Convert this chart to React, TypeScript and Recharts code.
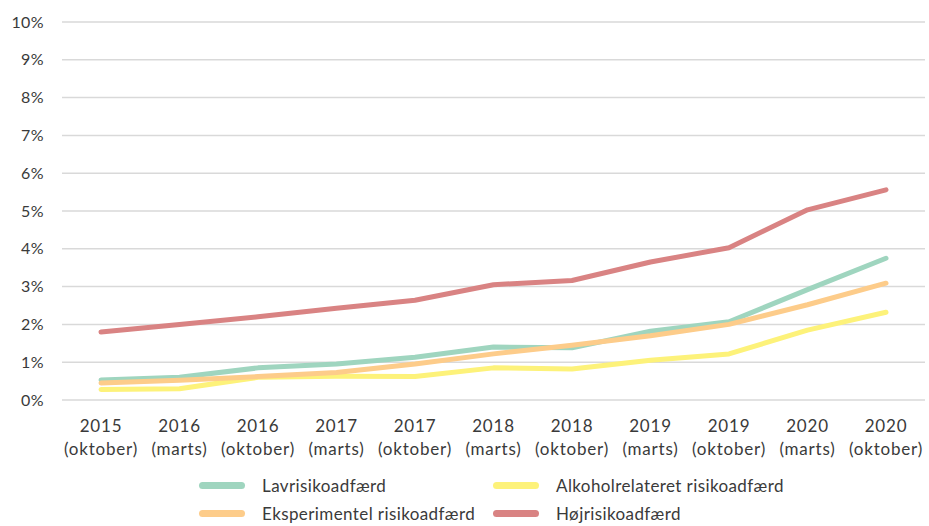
import { LineChart, Line, XAxis, YAxis, CartesianGrid } from "recharts";

const years = ["2015", "2016", "2016", "2017", "2017", "2018", "2018", "2019", "2019", "2020", "2020"];
const periods = ["(oktober)", "(marts)", "(oktober)", "(marts)", "(oktober)", "(marts)", "(oktober)", "(marts)", "(oktober)", "(marts)", "(oktober)"];

const lav = [0.53, 0.6, 0.85, 0.95, 1.13, 1.4, 1.38, 1.82, 2.07, 2.92, 3.75];
const alkohol = [0.28, 0.3, 0.6, 0.63, 0.62, 0.85, 0.82, 1.05, 1.22, 1.85, 2.32];
const eksperimentel = [0.45, 0.52, 0.62, 0.73, 0.95, 1.22, 1.45, 1.7, 2.0, 2.52, 3.09];
const hoj = [1.8, 2.0, 2.2, 2.43, 2.64, 3.05, 3.16, 3.65, 4.03, 5.03, 5.56];

const yTicks = [0, 1, 2, 3, 4, 5, 6, 7, 8, 9, 10];

const series = [
  { key: "lav", name: "Lavrisikoadfærd", color: "#9fd5bf" },
  { key: "alkohol", name: "Alkoholrelateret risikoadfærd", color: "#fdf27a" },
  { key: "eksperimentel", name: "Eksperimentel risikoadfærd", color: "#fdcc8a" },
  { key: "hoj", name: "Højrisikoadfærd", color: "#d98383" },
];

const data = years.map((y, i) => ({
  idx: i,
  year: y,
  period: periods[i],
  lav: lav[i],
  alkohol: alkohol[i],
  eksperimentel: eksperimentel[i],
  hoj: hoj[i],
}));

const FONT = "Lato, 'Open Sans', sans-serif";
const TEXT = "#3a3a3a";

const XTick = (props: any) => {
  const { x, y, payload } = props;
  const i = payload.value as number;
  return (
    <text x={x} y={y} textAnchor="middle" fill={TEXT} fontSize={17} fontFamily={FONT} letterSpacing={0.8}>
      <tspan x={x} dy={24}>{years[i]}</tspan>
      <tspan x={x} dy={23}>{periods[i]}</tspan>
    </text>
  );
};

export default function App() {
  return (
    <div style={{ position: "absolute", left: 0, top: 0, width: 929, height: 526, background: "#fff", overflow: "hidden" }}>
      <LineChart width={929} height={526} data={data} margin={{ top: 22, right: 4, left: 0, bottom: 66 }}>
        <CartesianGrid horizontal vertical={false} stroke="#d9d9d9" strokeWidth={1.5} />
        <XAxis
          dataKey="idx"
          type="category"
          axisLine={false}
          tickLine={false}
          tick={<XTick />}
          interval={0}
          height={60}
          padding={{ left: 39, right: 39 }}
        />
        <YAxis
          domain={[0, 10]}
          ticks={yTicks}
          width={62}
          axisLine={false}
          tickLine={false}
          tickMargin={12}
          tickFormatter={(v: number) => `${v}%`}
          tick={{ fill: TEXT, fontSize: 16, fontFamily: FONT, letterSpacing: 0.4 }}
          interval={0}
        />
        {series.map((s) => (
          <Line
            key={s.key}
            type="linear"
            dataKey={s.key}
            name={s.name}
            stroke={s.color}
            strokeWidth={5}
            strokeLinecap="round"
            strokeLinejoin="round"
            dot={false}
            activeDot={false}
            isAnimationActive={false}
          />
        ))}
      </LineChart>
      <div style={{ position: "absolute", left: 0, top: 473, width: 929, fontFamily: FONT, fontSize: 17, letterSpacing: 0.4, color: TEXT }}>
        {series.map((s, i) => (
          <div
            key={s.key}
            style={{
              position: "absolute",
              left: i % 2 === 0 ? 199 : 493,
              top: i < 2 ? 0 : 28,
              display: "flex",
              alignItems: "center",
              height: 24,
              whiteSpace: "nowrap",
            }}
          >
            <span style={{ display: "inline-block", width: 46, height: 7, borderRadius: 4, background: s.color, marginRight: 17 }} />
            <span>{s.name}</span>
          </div>
        ))}
      </div>
    </div>
  );
}
